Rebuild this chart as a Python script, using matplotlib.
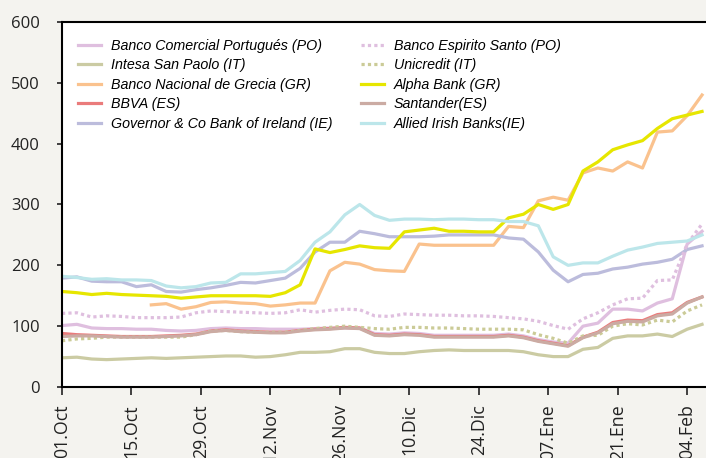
import numpy as np
import matplotlib
matplotlib.use("Agg")
import matplotlib.pyplot as plt

nan = np.nan

# dias desde el 01.Oct (cada 3 dias)
dias = [0, 3, 6, 9, 12, 15, 18, 21, 24, 27, 30, 33, 36, 39, 42, 45, 48, 51, 54, 57, 60, 63,
        66, 69, 72, 75, 78, 81, 84, 87, 90, 93, 96, 99, 102, 105, 108, 111, 114, 117, 120, 123, 126, 129]

ticks_dias = [0, 14, 28, 42, 56, 70, 84, 98, 112, 126]
ticks_etiquetas = ['01.Oct', '15.Oct', '29.Oct', '12.Nov', '26.Nov', '10.Dic', '24.Dic', '07.Ene', '21.Ene', '04.Feb']

bcp = [101, 103, 97, 96, 96, 95, 95, 93, 92, 93, 96, 97, 96, 96, 95, 95, 95, 96, 97, 97, 97,
       88, 87, 89, 88, 85, 85, 85, 85, 85, 87, 84, 78, 74, 72, 100, 105, 128, 128, 125, 138, 145, 235, 256]
intesa = [48, 49, 46, 45, 46, 47, 48, 47, 48, 49, 50, 51, 51, 49, 50, 53, 57, 57, 58, 63, 63, 57,
          55, 55, 58, 60, 61, 60, 60, 60, 60, 58, 53, 50, 50, 62, 65, 80, 84, 84, 87, 83, 95, 103]
bng = [nan, nan, nan, nan, nan, nan, 135, 137, 128, 132, 139, 140, 138, 137, 133, 135, 138, 138, 191, 205, 202, 193,
       191, 190, 235, 233, 233, 233, 233, 233, 264, 262, 306, 312, 307, 352, 360, 355, 370, 360, 419, 421, 446, 480]
bbva = [88, 86, 85, 84, 83, 83, 83, 84, 85, 87, 92, 94, 92, 91, 90, 90, 93, 95, 96, 98, 97, 86,
        85, 87, 86, 83, 83, 83, 83, 83, 85, 82, 76, 72, 68, 82, 90, 106, 110, 109, 119, 122, 139, 148]
governor = [179, 181, 174, 173, 173, 165, 168, 157, 156, 160, 163, 167, 172, 171, 175, 179, 195, 222, 238, 238, 256, 252,
            247, 247, 247, 248, 250, 250, 250, 250, 245, 243, 222, 192, 173, 185, 187, 194, 197, 202, 205, 210, 226, 232]
bes = [121, 122, 115, 117, 116, 114, 114, 114, 115, 122, 125, 124, 123, 122, 121, 122, 127, 123, 126, 128, 127, 117,
       116, 120, 119, 118, 118, 117, 117, 116, 114, 112, 108, 101, 95, 112, 122, 135, 145, 146, 175, 176, 235, 268]
unicredit = [76, 79, 80, 82, 82, 82, 82, 82, 82, 86, 92, 93, 91, 90, 90, 90, 93, 96, 98, 100, 98, 96,
             95, 98, 98, 97, 97, 96, 95, 95, 95, 94, 86, 80, 72, 84, 85, 100, 104, 102, 110, 107, 125, 135]
alpha = [157, 155, 152, 154, 152, 151, 150, 149, 146, 148, 150, 150, 150, 150, 149, 155, 168, 227, 221, 226, 232, 229,
         228, 255, 258, 261, 256, 256, 255, 255, 278, 284, 300, 292, 300, 355, 370, 390, 398, 405, 425, 441, 447, 453]
santander = [83, 84, 84, 83, 82, 82, 82, 83, 84, 86, 91, 93, 91, 90, 89, 89, 92, 94, 95, 97, 96, 85,
             84, 86, 85, 82, 82, 82, 82, 82, 84, 81, 75, 71, 67, 81, 89, 104, 108, 107, 117, 120, 138, 148]
allied = [182, 180, 177, 178, 176, 176, 175, 166, 163, 165, 171, 172, 186, 186, 188, 190, 208, 238, 255, 283, 300, 282,
          274, 276, 276, 275, 276, 276, 275, 275, 272, 272, 265, 214, 200, 204, 204, 215, 225, 230, 236, 238, 240, 250]

series = [
    ('Banco Comercial Portugués (PO)', bcp, '#dfbfdf', '-'),
    ('Intesa San Paolo (IT)', intesa, '#cbcba3', '-'),
    ('Banco Nacional de Grecia (GR)', bng, '#fac28e', '-'),
    ('BBVA (ES)', bbva, '#ea7b7b', '-'),
    ('Governor & Co Bank of Ireland (IE)', governor, '#bcbcdc', '-'),
    ('Banco Espirito Santo (PO)', bes, '#dfbfdf', (0, (1, 1))),
    ('Unicredit (IT)', unicredit, '#cbcb97', (0, (1, 1))),
    ('Alpha Bank (GR)', alpha, '#e6e600', '-'),
    ('Santander(ES)', santander, '#cbaba3', '-'),
    ('Allied Irish Banks(IE)', allied, '#bce6ea', '-'),
]

fig = plt.figure(figsize=(7.06, 4.58), dpi=100, facecolor='#f4f3ef')
ax = fig.add_axes([62 / 706, 71 / 458, 646 / 706, 365 / 458])
ax.set_facecolor('white')

for nombre, valores, color, estilo in series:
    ax.plot(dias, valores, color=color, linestyle=estilo, linewidth=2.3, label=nombre)

ax.set_xlim(0, 130.2)
ax.set_ylim(0, 600)
ax.set_yticks([0, 100, 200, 300, 400, 500, 600])
ax.set_xticks(ticks_dias)
ax.set_xticklabels(ticks_etiquetas, rotation=90, fontsize=12.8, family='Open Sans')
for t in ax.get_yticklabels():
    t.set_fontsize(12)
    t.set_family('Open Sans')
ax.tick_params(axis='y', direction='out', length=3.6, width=1.2, pad=12.3, colors='#222222')
ax.tick_params(axis='x', direction='out', length=6, width=1.2, pad=6.5, colors='#222222')

for lado in ['left', 'bottom', 'top']:
    ax.spines[lado].set_linewidth(1.5)
    ax.spines[lado].set_color('black')
ax.spines['right'].set_visible(False)

leg = ax.legend(loc='upper left', bbox_to_anchor=(16 / 646, 1 - 17 / 365), ncol=2, frameon=False,
                prop={'family': 'Liberation Sans', 'style': 'italic', 'size': 10.3},
                borderaxespad=0, borderpad=0,
                handlelength=1.6, handletextpad=0.7, columnspacing=2.0, labelspacing=0.38)

fig.savefig('out.png', dpi=100, facecolor=fig.get_facecolor())
